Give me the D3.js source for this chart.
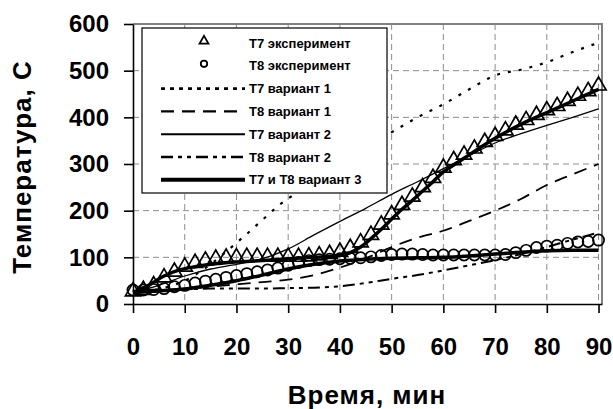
<!DOCTYPE html>
<html>
<head>
<meta charset="utf-8">
<script src="https://cdn.jsdelivr.net/npm/d3@7"></script>
<style>
  body { margin: 0; background: #fff; }
  svg { display: block; font-family: "Liberation Sans", Arial, sans-serif; }
  .grid line { stroke: #8c8c8c; stroke-dasharray: 6,4; stroke-width: 1; }
  .axis path, .axis line { stroke: #000; stroke-width: 1.6; }
  .axis text { font-size: 24px; font-weight: bold; fill: #000; }
</style>
</head>
<body>
<div id="chart"></div>
<script>
// values
var xTicks = [0, 10, 20, 30, 40, 50, 60, 70, 80, 90];
var yTicks = [0, 100, 200, 300, 400, 500, 600];

var expTime = [0, 2, 4, 6, 8, 10, 12, 14, 16, 18, 20, 22, 24, 26, 28, 30, 32, 34, 36, 38, 40, 42, 44,
  46, 48, 50, 52, 54, 56, 58, 60, 62, 64, 66, 68, 70, 72, 74, 76, 78, 80, 82, 84, 86, 88, 90];
var t7Exp = [27, 30, 40, 57, 69, 80, 88, 93, 97, 99, 100, 101, 101, 101, 101, 101, 101, 102, 104, 107, 112, 120, 132,
  148, 170, 192, 212, 230, 250, 270, 292, 308, 320, 333, 347, 360, 372, 384, 394, 405, 415, 424, 435, 446, 456, 468];
var t8Exp = [30, 30, 31, 33, 37, 40, 45, 49, 53, 57, 61, 65, 69, 73, 77, 83, 89, 93, 95, 96, 97, 98, 99,
  101, 104, 106, 107, 107, 106, 105, 105, 105, 105, 105, 105, 105, 106, 110, 115, 121, 124, 126, 130, 133, 134, 137];

var calcTime = [0, 5, 10, 15, 20, 25, 30, 35, 40, 45, 50, 55, 60, 65, 70, 75, 80, 85, 90];
var t7Var1Time = [0, 5, 10, 15, 18, 20, 22, 24, 26, 28, 30, 35, 40, 45, 50, 55, 60, 65, 70, 75, 80, 85, 90];
var t7Var1 = [25, 32, 50, 85, 112, 131, 150, 170, 190, 210, 226, 265, 300, 335, 368, 400, 428, 460, 490, 502, 518, 540, 560];
var t8Var1 = [25, 28, 32, 37, 42, 47, 52, 62, 78, 98, 122, 142, 157, 178, 200, 225, 255, 278, 300];
var t7Var2 = [25, 40, 60, 75, 85, 97, 118, 148, 177, 205, 235, 262, 290, 318, 345, 365, 383, 400, 418];
var t8Var2 = [25, 28, 31, 33, 33, 33, 34, 35, 38, 45, 54, 62, 72, 83, 94, 107, 122, 138, 153];
var t7Var3Time = [0, 3, 6, 9, 12, 15, 20, 25, 30, 35, 40, 42, 44, 46, 48, 50, 52, 54, 56, 58, 60, 63, 66, 70, 75, 80, 85, 90];
var t7Var3 = [25, 40, 60, 73, 80, 85, 90, 93, 97, 100, 104, 110, 122, 140, 160, 182, 203, 222, 242, 262, 283, 305, 327, 355, 385, 410, 435, 460];
var t8Var3 = [25, 28, 32, 40, 50, 62, 75, 85, 92, 96, 98, 99, 100, 103, 107, 111, 114, 115, 115];

var legendLabels = ["Т7 эксперимент", "Т8 эксперимент", "Т7 вариант 1", "Т8 вариант 1",
  "Т7 вариант 2", "Т8 вариант 2", "Т7 и Т8 вариант 3"];

var w = 613, h = 409;
var plot = {left: 133, right: 602, top: 24, bottom: 304};

var svg = d3.select("#chart")
  .append("svg")
  .attr("width", w)
  .attr("height", h);

var xScale = d3.scaleLinear().domain([0, 90.67]).range([plot.left, plot.right]);
var yScale = d3.scaleLinear().domain([0, 600]).range([plot.bottom, plot.top]);

// dashed grid
svg.append("g")
  .attr("class", "grid")
  .selectAll("line.v")
  .data(xTicks.slice(1))
  .enter()
  .append("line")
  .attr("x1", (d) => xScale(d)).attr("x2", (d) => xScale(d))
  .attr("y1", plot.top).attr("y2", plot.bottom);
svg.select(".grid")
  .selectAll("line.h")
  .data(yTicks.slice(1, -1))
  .enter()
  .append("line")
  .attr("x1", plot.left).attr("x2", plot.right)
  .attr("y1", (d) => yScale(d)).attr("y2", (d) => yScale(d));

// grey frame top and right
svg.append("path")
  .attr("d", "M" + plot.left + "," + plot.top + "H" + plot.right + "V" + plot.bottom)
  .attr("fill", "none")
  .attr("stroke", "#808080")
  .attr("stroke-width", 2);

// the calculated curves
function drawLine(times, vals, dash, width) {
  var line = d3.line()
    .x((d, i) => xScale(times[i]))
    .y((d) => yScale(d))
    .curve(d3.curveMonotoneX);
  svg.append("path")
    .datum(vals)
    .attr("d", line)
    .attr("fill", "none")
    .attr("stroke", "#000")
    .attr("stroke-width", width)
    .attr("stroke-dasharray", dash);
}
var styles = {
  v1t7: {dash: "3,8", width: 2.2},
  v1t8: {dash: "13,8", width: 1.8},
  v2t7: {dash: null, width: 1.3},
  v2t8: {dash: "12,5,4,5,4,5", width: 2},
  v3: {dash: null, width: 3.5}
};
drawLine(t7Var1Time, t7Var1, styles.v1t7.dash, styles.v1t7.width);
drawLine(calcTime, t8Var1, styles.v1t8.dash, styles.v1t8.width);
drawLine(calcTime, t7Var2, styles.v2t7.dash, styles.v2t7.width);
drawLine(calcTime, t8Var2, styles.v2t8.dash, styles.v2t8.width);
drawLine(t7Var3Time, t7Var3, styles.v3.dash, styles.v3.width);
drawLine(calcTime, t8Var3, styles.v3.dash, styles.v3.width);

// experiment markers
var tri = d3.symbol().type(d3.symbolTriangle).size(100);
svg.append("g")
  .selectAll("path")
  .data(t7Exp)
  .enter()
  .append("path")
  .attr("d", tri)
  .attr("transform", (d, i) => "translate(" + xScale(expTime[i]) + "," + yScale(d) + ")")
  .attr("fill", "none")
  .attr("stroke", "#000")
  .attr("stroke-width", 1.7);
svg.append("g")
  .selectAll("circle")
  .data(t8Exp)
  .enter()
  .append("circle")
  .attr("cx", (d, i) => xScale(expTime[i]))
  .attr("cy", (d) => yScale(d))
  .attr("r", 5.6)
  .attr("fill", "none")
  .attr("stroke", "#000")
  .attr("stroke-width", 1.7);

// axes
svg.append("g")
  .attr("class", "axis")
  .attr("transform", "translate(" + plot.left + ",0)")
  .call(d3.axisLeft(yScale).tickValues(yTicks).tickSize(9).tickSizeOuter(0).tickPadding(15));
svg.append("g")
  .attr("class", "axis")
  .attr("transform", "translate(0," + plot.bottom + ")")
  .call(d3.axisBottom(xScale).tickValues(xTicks).tickSize(9).tickSizeOuter(0).tickPadding(25));
svg.selectAll(".axis path.domain").attr("stroke-width", 2);

// axis titles
svg.append("text")
  .attr("transform", "translate(367,404)")
  .style("text-anchor", "middle")
  .style("font-size", "26px")
  .style("font-weight", "bold")
  .style("letter-spacing", "1px")
  .text("Время, мин");
svg.append("text")
  .attr("transform", "translate(31,167) rotate(-90)")
  .style("text-anchor", "middle")
  .style("font-size", "26px")
  .style("font-weight", "bold")
  .style("letter-spacing", "1px")
  .text("Температура, С");

// legend
var leg = svg.append("g");
leg.append("rect")
  .attr("x", 142).attr("y", 28)
  .attr("width", 245).attr("height", 165)
  .attr("fill", "#fff")
  .attr("stroke", "#000")
  .attr("stroke-width", 1.2);
var legStyles = [null, null, {dash: "4,5", width: 2.2}, styles.v1t8, styles.v2t7, styles.v2t8, styles.v3];
legendLabels.forEach((label, i) => {
  var ly = 43 + i * 22.8;
  if (i === 0) {
    leg.append("path")
      .attr("d", d3.symbol().type(d3.symbolTriangle).size(34))
      .attr("transform", "translate(204," + (ly - 2) + ")")
      .attr("fill", "none").attr("stroke", "#000").attr("stroke-width", 1.8);
  } else if (i === 1) {
    leg.append("circle")
      .attr("cx", 204).attr("cy", ly - 2).attr("r", 3.2)
      .attr("fill", "none").attr("stroke", "#000").attr("stroke-width", 1.8);
  } else {
    leg.append("line")
      .attr("x1", 161).attr("x2", 245)
      .attr("y1", ly).attr("y2", ly)
      .attr("stroke", "#000")
      .attr("stroke-width", legStyles[i].width + 0.6)
      .attr("stroke-dasharray", legStyles[i].dash);
  }
  leg.append("text")
    .attr("x", 249).attr("y", ly)
    .attr("dy", "0.35em")
    .style("font-size", "13px")
    .style("font-weight", "bold")
    .text(label);
});
</script>
</body>
</html>
